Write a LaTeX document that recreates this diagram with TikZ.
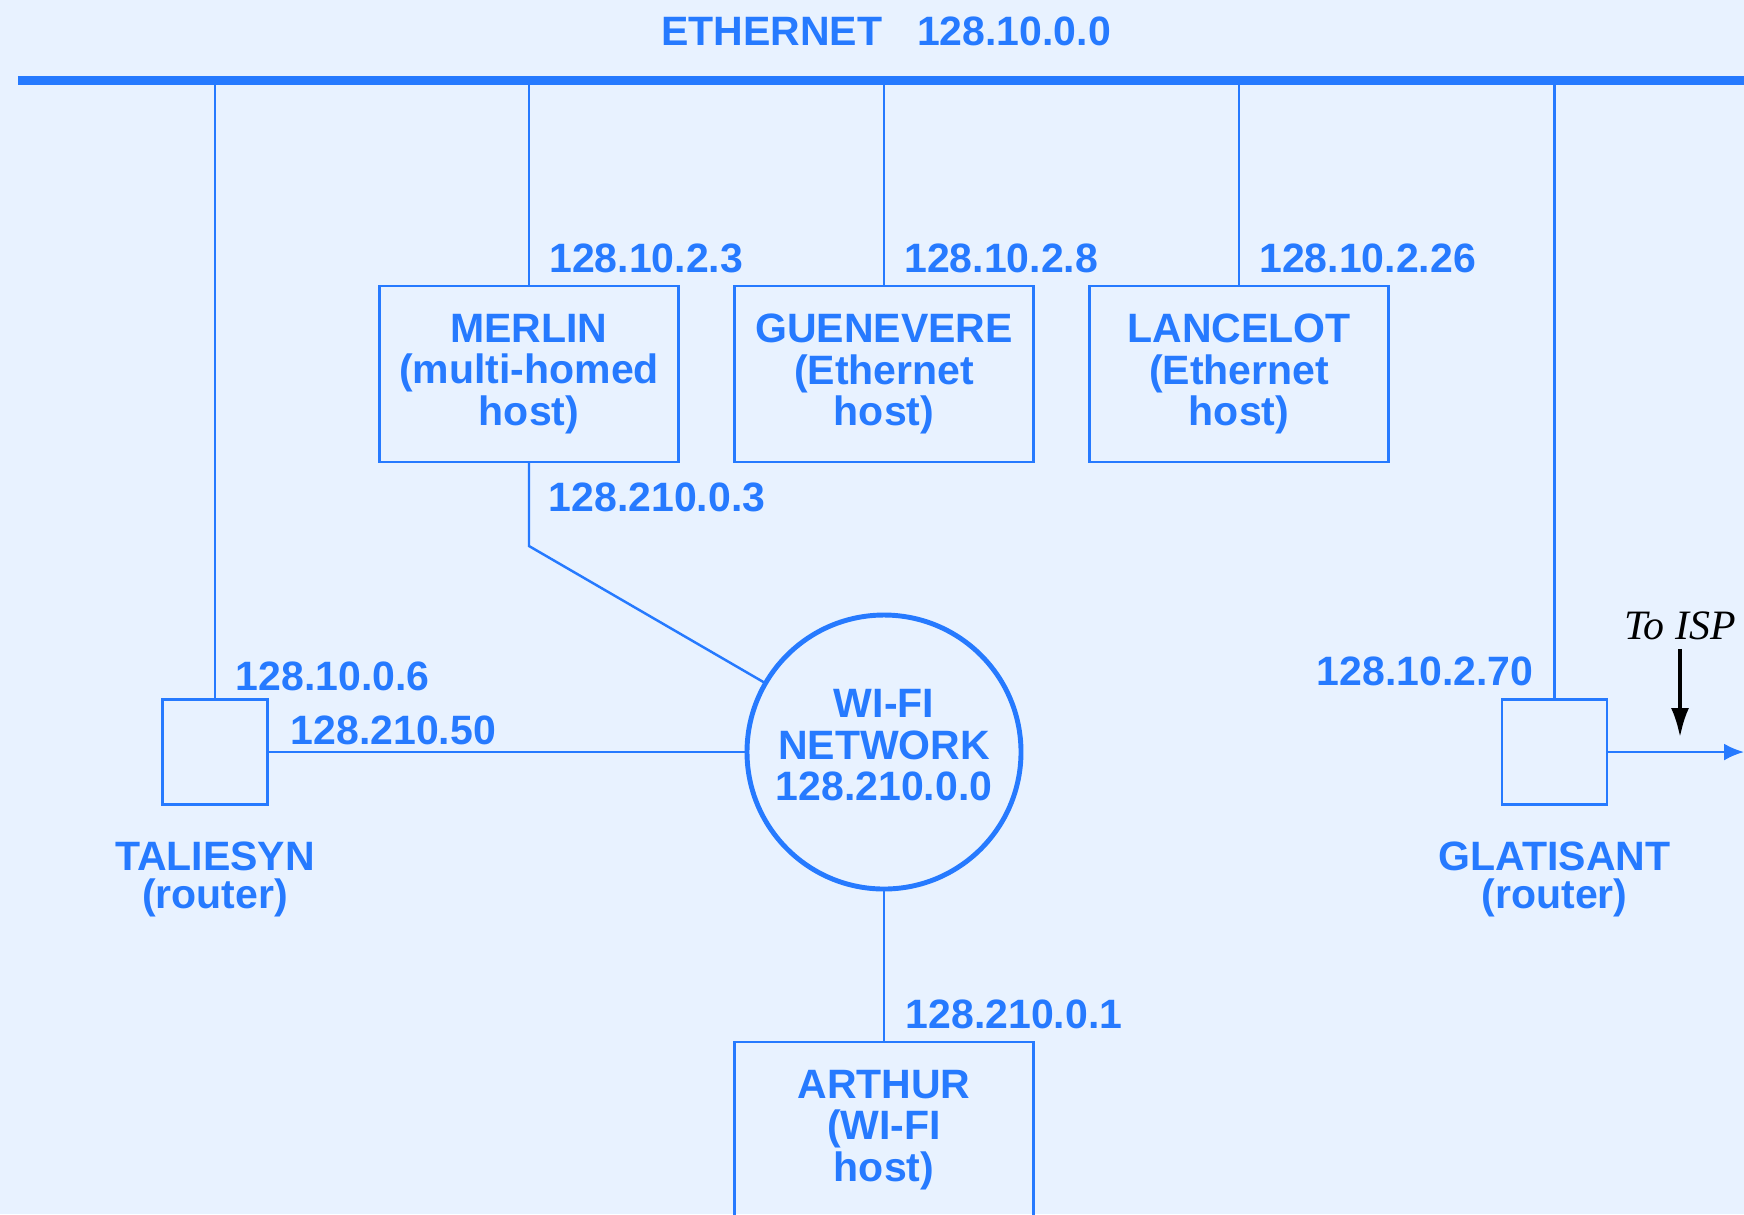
\documentclass[tikz,border=0pt]{standalone}
\usepackage{fontspec}
\setmainfont{Liberation Sans}
\newfontfamily\ispfont{Liberation Serif}
\usetikzlibrary{positioning,arrows.meta}
\definecolor{netblue}{RGB}{38,122,255}
\definecolor{netbg}{RGB}{232,242,255}

\begin{document}
\begin{tikzpicture}[
	every node/.style={text=netblue, font=\bfseries\fontsize{11.67}{11.86}\selectfont},
	wire/.style={netblue, line width=0.7pt},
	host/.style={draw=netblue, line width=0.7pt, minimum width=2.99cm, minimum height=1.76cm, align=center, inner sep=0pt, outer sep=0pt},
	router/.style={draw=netblue, line width=0.7pt, minimum size=1.05cm, inner sep=0pt, outer sep=0pt},
	wifi/.style={circle, draw=netblue, line width=1.4pt, minimum size=2.74cm, align=center, inner sep=0pt, outer sep=0pt},
	ip/.style={anchor=west, inner sep=0pt},
	rname/.style={align=center, inner sep=0pt, font=\bfseries\fontsize{11.67}{10.8}\selectfont}
]
\clip (0,0) rectangle (17.44,-12.14);
\fill[netbg] (0,0) rectangle (17.44,-12.14);
\coordinate (ethL) at (0.18,-0.805);
\coordinate (ethR) at (17.44,-0.805);
\draw[netblue, line width=2.56pt] (ethL) -- (ethR);
\node (ethlabel) at (8.86,-0.31) {ETHERNET\hspace{0.35cm}128.10.0.0};
\node[host] (merlin) at (5.29,-3.74) {MERLIN\\(multi-homed\\host)};
\node[host] (guenevere) at (8.84,-3.74) {GUENEVERE\\(Ethernet\\host)};
\node[host] (lancelot) at (12.39,-3.74) {LANCELOT\\(Ethernet\\host)};
\foreach \h/\addr in {merlin/128.10.2.3, guenevere/128.10.2.8, lancelot/128.10.2.26} {
	\draw[wire] (\h.north) -- (\h.north |- ethL);
	\node[ip] (\h-ip) at ([xshift=0.195cm, yshift=0.28cm]\h.north) {\addr};
	};
\node[wifi, text depth=0.14cm] (wifi) at (8.84,-7.52) {WI-FI\\NETWORK\\128.210.0.0};
\draw[wire] (merlin.south) -- ++(0,-0.84) coordinate (bend) -- (wifi);
\node[ip] (merlin-ip2) at ([xshift=0.19cm, yshift=-0.35cm]merlin.south) {128.210.0.3};
\node[router] (taliesyn) at (2.15,-7.52) {};
\node[router] (glatisant) at (15.545,-7.52) {};
\draw[wire] (taliesyn.north) -- (taliesyn.north |- ethL);
\draw[wire] (glatisant.north) -- (glatisant.north |- ethL);
\draw[wire] (taliesyn.east) -- (taliesyn.east -| wifi.west);
\node[ip] (taliesyn-ip) at (2.35,-6.76) {128.10.0.6};
\node[ip] (taliesyn-ip2) at (2.90,-7.30) {128.210.50};
\node[ip, anchor=east] (glatisant-ip) at (15.34,-6.71) {128.10.2.70};
\node[rname, below=0.37cm of taliesyn] (taliesyn-name) {TALIESYN\\(router)};
\node[rname, below=0.37cm of glatisant] (glatisant-name) {GLATISANT\\(router)};
\node[host] (arthur) at (8.84,-11.30) {ARTHUR\\(WI-FI\\host)};
\draw[wire] (wifi.south) -- (arthur.north);
\node[ip] (arthur-ip) at (9.05,-10.14) {128.210.0.1};
\coordinate (isp) at (17.44,-7.52);
\draw[wire, -{Latex[length=0.2cm, width=0.17cm]}] (glatisant.east) -- (isp);
\node[text=black, inner sep=0pt, font=\ispfont\itshape\fontsize{11.9}{12}\selectfont] (isplabel) at (16.80,-6.26) {To ISP};
\coordinate (ispmark) at (16.80,-7.37);
\draw[black, line width=0.95pt, -{Latex[length=0.29cm, width=0.18cm]}] ([yshift=-0.08cm]isplabel.south) -- (ispmark);
\end{tikzpicture}
\end{document}
